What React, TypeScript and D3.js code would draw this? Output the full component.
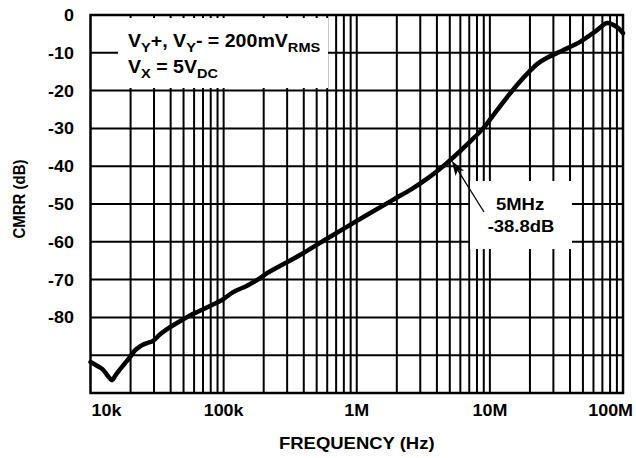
import React from 'react';
import * as d3 from 'd3';

const FREQ = [
  1e4, 1.12e4, 1.24e4, 1.35e4, 1.45e4, 1.53e4, 1.61e4, 1.8e4, 1.98e4, 2.15e4, 2.27e4, 2.45e4,
  2.66e4, 2.95e4, 3.3e4, 3.76e4, 4.3e4, 5.04e4, 5.8e4, 6.88e4, 8.2e4, 9.73e4, 1.18e5, 1.5e5,
  1.88e5, 2.12e5, 3.75e5, 6.64e5, 1.19e6, 1.87e6, 2.6e6, 3.38e6, 4.46e6, 5.0e6, 7.1e6, 8.9e6,
  1.13e7, 1.4e7, 1.6e7, 2.0e7, 2.3e7, 2.69e7, 3.55e7, 4.76e7, 6.39e7, 7.59e7, 9.03e7, 1e8,
];
const CMRR = [
  -91.8, -92.8, -93.8, -95.5, -96.6, -95.5, -94.4, -92.3, -90.5, -88.8, -88.1, -87.3,
  -86.8, -86.2, -84.6, -83.1, -81.8, -80.4, -79.2, -78.0, -76.7, -75.4, -73.3, -71.6,
  -69.6, -68.3, -63.5, -58.2, -52.9, -48.9, -46.0, -43.3, -40.0, -38.5, -33.5, -30.0,
  -25.2, -21.0, -18.5, -14.8, -12.8, -11.3, -9.3, -7.1, -4.0, -2.1, -3.2, -4.8,
];
const X_TICKS = [1e4, 1e5, 1e6, 1e7, 1e8];
const X_LABELS = ['10k', '100k', '1M', '10M', '100M'];
const Y_TICKS = [0, -10, -20, -30, -40, -50, -60, -70, -80];
const Y_GRID = [-10, -20, -30, -40, -50, -60, -70, -80, -90];

const W = 636;
const H = 458;
const FONT = '"Liberation Sans", Arial, Helvetica, sans-serif';
const SX = 1.12;

export default function App() {
  const x = d3.scaleLog().domain([1e4, 1e8]).range([90.5, 623]);
  const y = d3.scaleLinear().domain([0, -100]).range([15, 393]);
  const [x0, x1] = x.range();
  const [y0, y1] = y.range();

  const vGrid = x.ticks().filter((t) => t > 1e4 * 1.001 && t < 1e8 * 0.999);
  const line = d3
    .line<number>()
    .x((_, i) => x(FREQ[i]))
    .y((d) => y(d))
    .curve(d3.curveCatmullRom.alpha(0.5));

  const tx = (px: number, py: number) => `translate(${px},${py}) scale(${SX},1)`;

  // arrow geometry
  const tip = [x(5e6) + 2, y(-38.8) - 1];
  const tail = [484, 212];
  const ang = Math.atan2(tail[1] - tip[1], tail[0] - tip[0]);
  const hl = 15;
  const hw = 5;
  const bx = tip[0] + hl * Math.cos(ang);
  const by = tip[1] + hl * Math.sin(ang);
  const head = [
    tip,
    [bx + hw * Math.sin(ang), by - hw * Math.cos(ang)],
    [tip[0] + hl * 0.75 * Math.cos(ang), tip[1] + hl * 0.75 * Math.sin(ang)],
    [bx - hw * Math.sin(ang), by + hw * Math.cos(ang)],
  ];

  return (
    <svg
      width={W}
      height={H}
      style={{ position: 'absolute', left: 0, top: 0, background: '#fff' }}
      fontFamily={FONT}
      fontWeight="bold"
    >
      <rect x={0} y={0} width={W} height={H} fill="#fff" />
      {/* grid */}
      {Y_GRID.map((v) => (
        <line key={'h' + v} x1={x0} x2={x1} y1={y(v)} y2={y(v)} stroke="#000" strokeWidth={2} />
      ))}
      {vGrid.map((t) => (
        <line key={'v' + t} x1={x(t)} x2={x(t)} y1={y0} y2={y1} stroke="#000" strokeWidth={2} />
      ))}
      {/* label masks */}
      <rect x={118} y={18} width={210} height={70} fill="#fff" />
      <rect x={470} y={181} width={102} height={68} fill="#fff" />
      {/* frame */}
      <rect x={x0} y={y0} width={x1 - x0} height={y1 - y0} fill="none" stroke="#000" strokeWidth={2.5} />
      {/* curve */}
      <path
        d={line(CMRR) || ''}
        fill="none"
        stroke="#000"
        strokeWidth={4.5}
        strokeLinejoin="round"
        strokeLinecap="round"
      />
      {/* arrow */}
      <line x1={tail[0]} y1={tail[1]} x2={tip[0] + 8 * Math.cos(ang)} y2={tip[1] + 8 * Math.sin(ang)} stroke="#000" strokeWidth={1.3} />
      <polygon points={head.map((p) => p.join(',')).join(' ')} fill="#000" />
      {/* y tick labels */}
      {Y_TICKS.map((v) => (
        <text key={'yl' + v} transform={tx(74, y(v) + 6)} textAnchor="end" fontSize={16}>
          {v}
        </text>
      ))}
      {/* x tick labels */}
      {X_TICKS.map((t, i) => {
        const last = i === X_TICKS.length - 1;
        const first = i === 0;
        const px = first ? x(t) + 1 : last ? x(t) + 10 : x(t);
        return (
          <text
            key={'xl' + t}
            transform={tx(px, 416)}
            textAnchor={first ? 'start' : last ? 'end' : 'middle'}
            fontSize={16}
          >
            {X_LABELS[i]}
          </text>
        );
      })}
      {/* axis titles */}
      <text transform={tx((x0 + x1) / 2, 449)} textAnchor="middle" fontSize={16.5}>
        FREQUENCY (Hz)
      </text>
      <text
        transform={`translate(25,199) scale(${SX},1) rotate(-90)`}
        textAnchor="middle"
        fontSize={15}
      >
        CMRR (dB)
      </text>
      {/* condition annotation */}
      <text transform={tx(128, 47)} fontSize={17.5}>
        V<tspan fontSize={13} dy={5}>Y</tspan>
        <tspan dy={-5}>+, V</tspan>
        <tspan fontSize={13} dy={5}>Y</tspan>
        <tspan dy={-5}>- = 200mV</tspan>
        <tspan fontSize={13} dy={5}>RMS</tspan>
      </text>
      <text transform={tx(128, 73)} fontSize={17.5}>
        V<tspan fontSize={13} dy={5}>X</tspan>
        <tspan dy={-5}> = 5V</tspan>
        <tspan fontSize={13} dy={5}>DC</tspan>
      </text>
      {/* callout */}
      <text transform={tx(520, 210)} textAnchor="middle" fontSize={16.5}>
        5MHz
      </text>
      <text transform={tx(521, 232)} textAnchor="middle" fontSize={16.5}>
        -38.8dB
      </text>
    </svg>
  );
}
